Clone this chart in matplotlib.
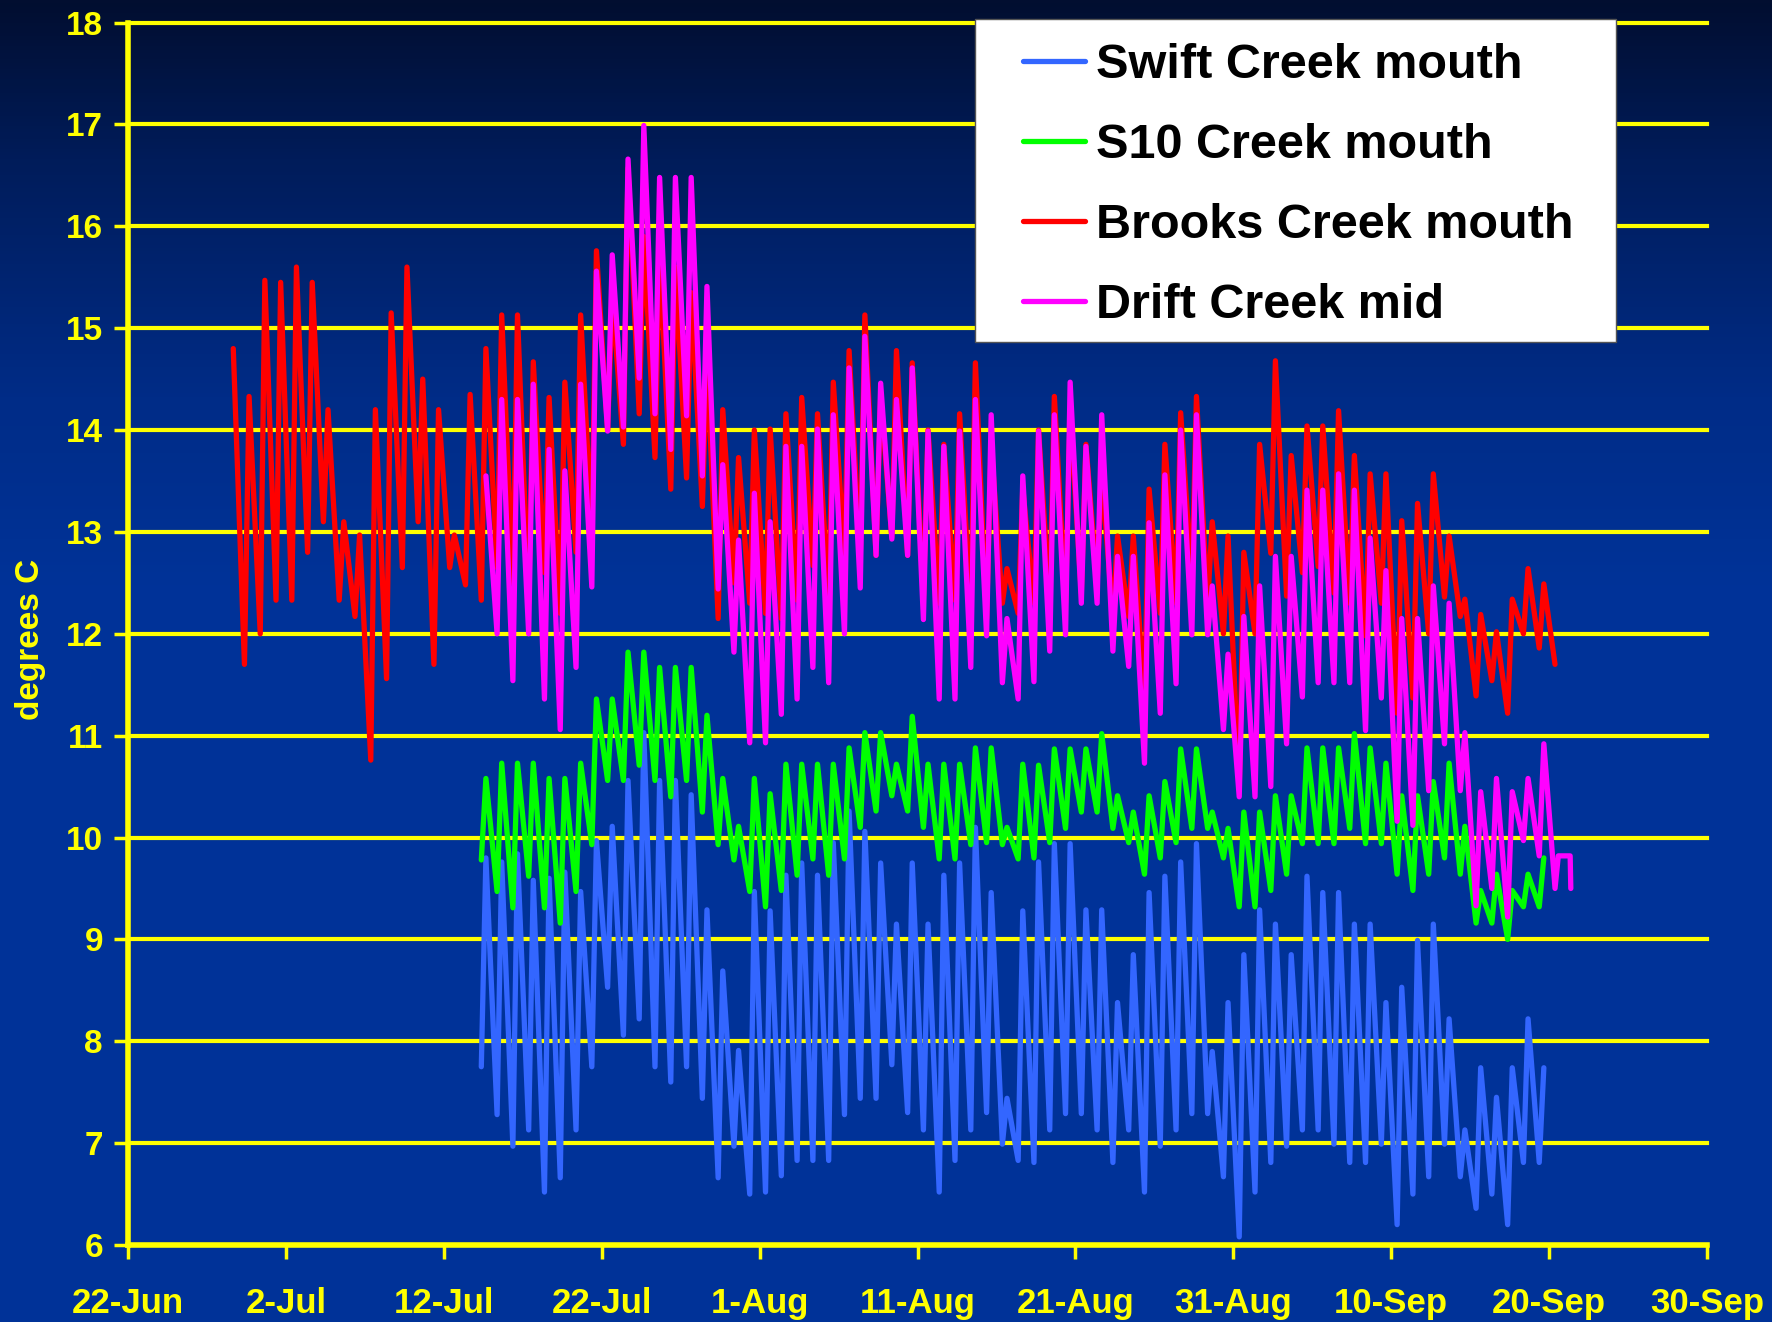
import numpy as np
import matplotlib
matplotlib.use("Agg")
import matplotlib.pyplot as plt
from matplotlib.patches import Rectangle

# ---------------- data ----------------
series_names = ["Swift Creek mouth", "S10 Creek mouth", "Brooks Creek mouth", "Drift Creek mid"]
series_colors = ["#3366FF", "#00FF00", "#FF0000", "#FF00FF"]

# first day index (days after 22-Jun) of the first daily peak
swift_first_day = 22
s10_first_day = 22
brooks_first_day = 6
drift_first_day = 22

# starting readings (before first peak) for the two lower loggers
swift_start = 7.75
s10_start = 9.78

brooks_max = [14.8, 14.33, 15.47, 15.45, 15.6, 15.45, 14.2, 13.1, 12.97, 14.2,
              15.15, 15.6, 14.5, 14.2, 12.97, 14.35, 14.8, 15.13, 15.13, 14.67,
              14.32, 14.47, 15.13, 15.76, 15.3, 16.57, 15.9, 15.76, 15.6, 15.35,
              14.7, 14.2, 13.73, 14.0, 14.01, 14.16, 14.32, 14.16, 14.47, 14.78,
              15.13, 14.32, 14.78, 14.66, 14.0, 13.86, 14.16, 14.66, 13.86, 12.64,
              13.43, 14.0, 14.33, 14.17, 13.86, 13.55, 12.96, 12.96, 13.42, 13.86,
              14.17, 14.33, 13.1, 12.96, 12.8, 13.86, 14.68, 13.75, 14.04, 14.04,
              14.19, 13.75, 13.57, 13.57, 13.11, 13.28, 13.57, 12.96, 12.34, 12.19,
              12.02, 12.34, 12.64, 12.49]
brooks_min = [11.7, 12.0, 12.33, 12.33, 12.8, 13.1, 12.33, 12.17, 10.76, 11.56,
              12.65, 13.1, 11.7, 12.65, 12.48, 12.33, 12.65, 12.5, 12.3, 12.6,
              12.2, 12.8, 13.0, 14.0, 13.86, 14.16, 13.73, 13.42, 13.53, 13.25,
              12.15, 12.5, 12.3, 12.2, 12.15, 12.33, 12.67, 12.33, 12.77, 12.74,
              12.77, 12.95, 12.77, 12.33, 12.3, 12.33, 12.2, 12.15, 12.3, 12.2,
              12.3, 12.3, 12.3, 12.4, 12.5, 12.17, 12.17, 11.38, 12.2, 12.3,
              12.5, 12.3, 12.0, 10.47, 12.0, 12.79, 12.37, 12.6, 12.66, 12.4,
              12.3, 11.98, 12.3, 11.22, 11.37, 12.0, 12.36, 12.17, 11.39, 11.54,
              11.22, 12.0, 11.86, 11.7]

drift_max = [13.55, 14.3, 14.3, 14.45, 13.81, 13.6, 14.45, 15.56, 15.72, 16.66,
             16.99, 16.48, 16.48, 16.48, 15.41, 13.66, 12.92, 13.38, 13.1, 13.84,
             13.84, 14.01, 14.15, 14.61, 14.92, 14.46, 14.3, 14.61, 13.99, 13.84,
             13.99, 14.3, 14.15, 12.15, 13.55, 13.99, 14.15, 14.47, 13.84, 14.15,
             12.76, 12.76, 13.09, 13.56, 14.0, 14.15, 12.47, 11.8, 12.17, 12.47,
             12.76, 12.76, 13.41, 13.41, 13.57, 13.41, 12.94, 12.62, 12.15, 12.15,
             12.47, 12.3, 11.03, 10.45, 10.58, 10.45, 10.58, 10.92]
drift_min = [12.0, 11.54, 12.0, 11.36, 11.06, 11.67, 12.46, 13.99, 14.03, 14.51,
             14.16, 13.81, 14.14, 13.55, 12.44, 11.82, 10.93, 10.93,
             11.21, 11.36, 11.67, 11.52, 12.0, 12.45, 12.77, 12.93, 12.77, 12.14,
             11.36, 11.36, 11.67, 11.98, 11.52, 11.36, 11.53,
             11.83, 11.99, 12.3, 12.3, 11.83, 11.68, 10.73, 11.22, 11.51, 11.99,
             11.99, 11.06, 10.4, 10.4, 10.5, 10.92, 11.38,
             11.52, 11.52, 11.52, 11.05, 11.37, 10.16, 10.12, 10.46, 10.92, 10.46,
             9.33, 9.5, 9.22, 9.97, 9.82, 9.5]
drift_tail_times = ["2008-09-20T14:00", "2008-09-21T08:00", "2008-09-21T09:00"]
drift_tail_vals = [9.82, 9.82, 9.5]

s10_max = [10.58, 10.73, 10.73, 10.73, 10.58, 10.58, 10.73, 11.36, 11.36, 11.82,
           11.82, 11.67, 11.67, 11.67, 11.2, 10.58, 10.11, 10.58,
           10.43, 10.72, 10.72, 10.72, 10.72, 10.88, 11.03, 11.03, 10.72, 11.19,
           10.72, 10.72, 10.72, 10.88, 10.88, 10.1, 10.72,
           10.71, 10.87, 10.87, 10.87, 11.02, 10.41, 10.25, 10.41, 10.55, 10.87,
           10.87, 10.25, 10.09, 10.25, 10.25, 10.41, 10.41,
           10.88, 10.88, 10.88, 11.02, 10.88, 10.73, 10.41, 10.41, 10.55, 10.73,
           10.11, 9.48, 9.64, 9.48, 9.64, 9.8]
s10_min = [9.47, 9.31, 9.62, 9.31, 9.16, 9.47, 9.93, 10.56, 10.56, 10.71,
           10.56, 10.4, 10.56, 10.25, 9.93, 9.78, 9.47,
           9.32, 9.48, 9.63, 9.79, 9.63, 9.79, 10.1, 10.26, 10.41, 10.26,
           10.1, 9.79, 9.79, 9.93, 9.95, 9.93, 9.79,
           9.8, 9.95, 10.09, 10.25, 10.25, 10.09, 9.95, 9.64, 9.8, 9.95,
           10.09, 10.09, 9.8, 9.32, 9.32, 9.48, 9.64,
           9.94, 9.94, 9.94, 10.09, 9.94, 9.94, 9.64, 9.48, 9.64, 9.8,
           9.64, 9.16, 9.16, 9.0, 9.32, 9.32]

swift_max = [9.8, 9.76, 9.84, 9.58, 9.6, 9.66, 9.47, 9.97, 10.11, 10.56,
             11.03, 10.56, 10.56, 10.42, 9.29, 8.69, 7.91, 9.47,
             9.28, 9.63, 9.75, 9.63, 9.95, 10.26, 10.06, 9.75, 9.15, 9.75,
             9.15, 9.63, 9.75, 10.1, 9.46, 7.44, 9.28,
             9.76, 9.94, 9.94, 9.29, 9.29, 8.38, 8.85, 9.46, 9.62, 9.76,
             9.94, 7.9, 8.38, 8.85, 9.29, 9.15, 8.85,
             9.62, 9.46, 9.46, 9.15, 9.15, 8.38, 8.53, 8.99, 9.15, 8.22,
             7.13, 7.74, 7.45, 7.74, 8.22, 7.74]
swift_min = [7.28, 6.97, 7.13, 6.52, 6.66, 7.13, 7.75, 8.53, 8.06, 8.22,
             7.75, 7.6, 7.75, 7.44, 6.66, 6.97, 6.5,
             6.52, 6.68, 6.83, 6.83, 6.83, 7.28, 7.44, 7.44, 7.77, 7.3,
             7.13, 6.52, 6.83, 7.13, 7.3, 6.99, 6.83,
             6.81, 7.13, 7.29, 7.29, 7.13, 6.81, 7.13, 6.52, 6.97, 7.13,
             7.29, 7.29, 6.67, 6.08, 6.52, 6.81, 6.97,
             7.13, 7.13, 6.99, 6.81, 6.81, 6.99, 6.2, 6.5, 6.67, 6.99,
             6.67, 6.36, 6.5, 6.2, 6.81, 6.81]

tick_dates = ["2008-06-22", "2008-07-02", "2008-07-12", "2008-07-22", "2008-08-01",
              "2008-08-11", "2008-08-21", "2008-08-31", "2008-09-10", "2008-09-20",
              "2008-09-30"]
tick_labels = ["22-Jun", "2-Jul", "12-Jul", "22-Jul", "1-Aug", "11-Aug", "21-Aug",
               "31-Aug", "10-Sep", "20-Sep", "30-Sep"]
y_ticks = list(range(6, 19))
y_label = "degrees C"

# ---------------- build series ----------------
base = np.datetime64("2008-06-22T00:00")
PEAK_HOUR = 16
MIN_HOUR = 9


def build(first_day, maxima, minima, start=None):
    times, vals = [], []
    if start is not None:
        times.append(base + np.timedelta64(first_day * 24 + MIN_HOUR, "h"))
        vals.append(start)
    for i, mx in enumerate(maxima):
        times.append(base + np.timedelta64((first_day + i) * 24 + PEAK_HOUR, "h"))
        vals.append(mx)
        if i < len(minima):
            times.append(base + np.timedelta64((first_day + i + 1) * 24 + MIN_HOUR, "h"))
            vals.append(minima[i])
    return np.array(times), np.array(vals)


t_sw, v_sw = build(swift_first_day, swift_max, swift_min, swift_start)
t_s10, v_s10 = build(s10_first_day, s10_max, s10_min, s10_start)
t_br, v_br = build(brooks_first_day, brooks_max, brooks_min)
t_dr, v_dr = build(drift_first_day, drift_max, drift_min)
t_dr = np.concatenate([t_dr, np.array(drift_tail_times, dtype="datetime64[m]")])
v_dr = np.concatenate([v_dr, np.array(drift_tail_vals)])

# ---------------- figure ----------------
W, H = 1772, 1322
fig = plt.figure(figsize=(W / 100, H / 100), dpi=100)

# background gradient
bg = fig.add_axes([0, 0, 1, 1], zorder=-10)
ys = np.linspace(0, 1, 400)
stops = np.array([0.0, 0.12, 0.3, 0.45, 1.0])
r = np.interp(ys, stops, [2, 0, 0, 0, 0])
g = np.interp(ys, stops, [14, 28, 44, 51, 50])
b = np.interp(ys, stops, [48, 90, 135, 153, 152])
grad = np.stack([r, g, b], axis=1)[:, None, :] / 255.0
grad = np.repeat(grad, 2, axis=1)
bg.imshow(grad, aspect="auto", extent=[0, 1, 0, 1], origin="upper")
bg.set_axis_off()

left, right = 128 / W, 1707 / W
bottom, top = 1 - 1245 / H, 1 - 22.6 / H
ax = fig.add_axes([left, bottom, right - left, top - bottom])
ax.patch.set_alpha(0)

YEL = "#FFFF00"
FONT = ["Liberation Sans", "DejaVu Sans"]
lines = []
for (t, v, c, name, z) in [(t_sw, v_sw, series_colors[0], series_names[0], 3),
                           (t_s10, v_s10, series_colors[1], series_names[1], 4),
                           (t_br, v_br, series_colors[2], series_names[2], 5),
                           (t_dr, v_dr, series_colors[3], series_names[3], 6)]:
    ln, = ax.plot(t, v, color=c, lw=3.8, label=name, zorder=z,
                  solid_joinstyle="round", solid_capstyle="round")
    lines.append(ln)

ax.set_ylim(6, 18)
ax.set_yticks(y_ticks)
xt = np.array(tick_dates, dtype="datetime64[D]")
ax.set_xlim(xt[0], xt[-1])
ax.set_xticks(xt)
ax.set_xticklabels(tick_labels)

ax.yaxis.grid(True, color=YEL, lw=3.0)
ax.xaxis.grid(False)
ax.set_axisbelow(True)
for gl in ax.get_ygridlines():
    gl.set_clip_on(False)

for s in ["top", "right"]:
    ax.spines[s].set_visible(False)
for s in ["left", "bottom"]:
    ax.spines[s].set_color(YEL)
    ax.spines[s].set_linewidth(4)
    ax.spines[s].set_zorder(2)

ax.tick_params(axis="y", colors=YEL, length=10, width=2.5, pad=8, labelsize=24)
ax.tick_params(axis="x", colors=YEL, length=10, width=2.5, pad=20, labelsize=25)
for lab in ax.get_xticklabels() + ax.get_yticklabels():
    lab.set_fontfamily(FONT)
    lab.set_fontweight("bold")

ax.set_ylabel(y_label, color=YEL, fontsize=24, fontweight="bold", fontfamily=FONT)
ax.yaxis.set_label_coords(-0.052, 0.495)

# legend box (white frame) drawn in the axes above the data, legend on top
box = Rectangle((975 / W, 1 - 342 / H), (1616 - 975) / W, (342 - 19) / H,
                transform=fig.transFigure, facecolor="white", edgecolor="#555555",
                lw=1.0, zorder=19, clip_on=False)
ax.add_patch(box)
leg = ax.legend(handles=lines, labels=series_names, loc="upper left",
                bbox_to_anchor=(1023 / W, 1 - 43 / H), bbox_transform=fig.transFigure,
                borderaxespad=0, frameon=False,
                prop={"family": FONT, "weight": "bold", "size": 35},
                handlelength=1.27, handletextpad=0.23, labelspacing=0.72,
                borderpad=0.0)
leg.set_zorder(20)
for t in leg.get_texts():
    t.set_color("black")

fig.savefig("out.png", dpi=100)
